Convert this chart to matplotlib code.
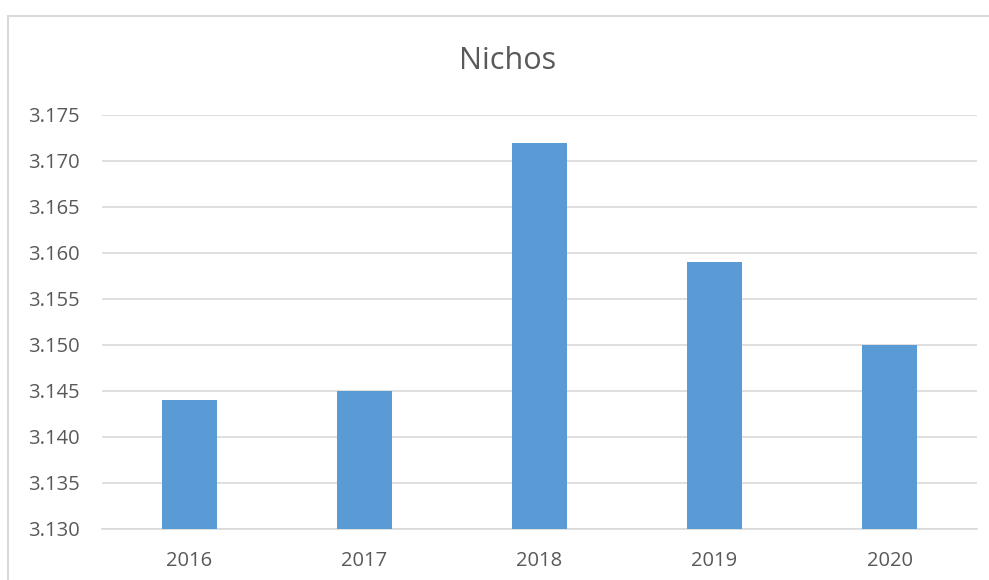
import matplotlib
matplotlib.use("Agg")
import matplotlib.pyplot as plt
from matplotlib.patches import Rectangle
from matplotlib.ticker import FormatStrFormatter

years = ["2016", "2017", "2018", "2019", "2020"]
values = [3.144, 3.145, 3.172, 3.159, 3.150]
title = "Nichos"

plt.rcParams['font.family'] = ['Open Sans', 'DejaVu Sans']
fig = plt.figure(figsize=(9.89, 5.8), dpi=100)
W, H = 989, 580
ax = fig.add_axes([102 / W, 1 - 529 / H, (977 - 102) / W, (529 - 115) / H])

x = range(len(years))
ax.bar(x, values, width=0.315, color="#5B9BD5", zorder=3)
ax.set_xlim(-0.5, len(years) - 0.5)
ax.set_ylim(3.130, 3.175)
ax.set_yticks([3.130 + 0.005 * i for i in range(10)])
ax.yaxis.set_major_formatter(FormatStrFormatter('%.3f'))
ax.set_xticks(list(x))
ax.set_xticklabels(years)
ax.grid(axis='y', color="#D9D9D9", linewidth=1.2, zorder=0)
for s in ['top', 'right', 'left']:
    ax.spines[s].set_visible(False)
ax.spines['bottom'].set_color("#D9D9D9")
ax.spines['bottom'].set_linewidth(1.2)
ax.tick_params(axis='both', length=0, labelsize=14.5, colors="#595959")
ax.tick_params(axis='y', pad=16)
ax.tick_params(axis='x', pad=16)
fig.text(508 / W, 1 - 61 / H, title, ha='center', va='center', fontsize=22, color="#595959")

fig.patches.append(Rectangle((8 / W, -0.1), 1.2, 1 - 16 / H + 0.1, transform=fig.transFigure,
                             fill=False, edgecolor="#D9D9D9", linewidth=1.5))
fig.savefig("out.png", dpi=100)
